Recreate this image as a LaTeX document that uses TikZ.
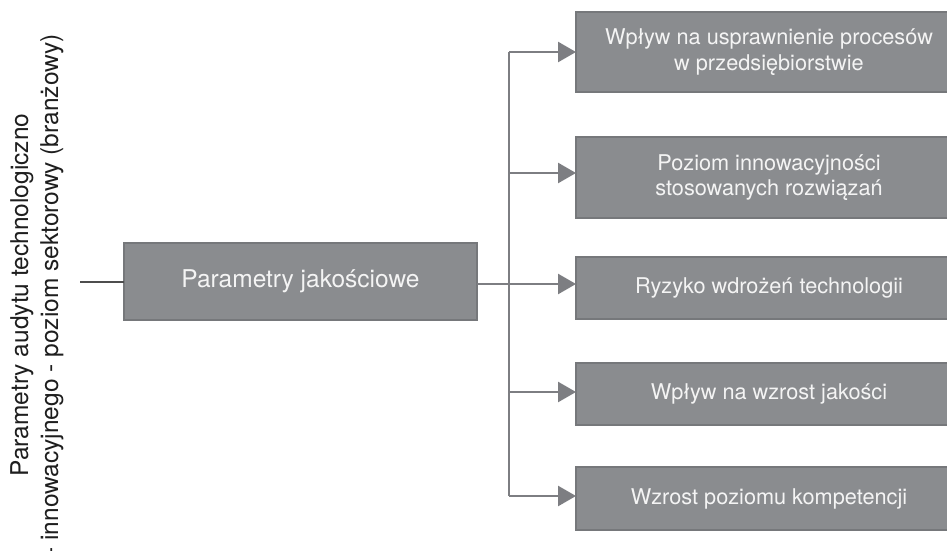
\documentclass[tikz,border=0pt]{standalone}
\usepackage{fontspec}
\setmainfont{TeX Gyre Heros}
\usetikzlibrary{arrows.meta}
\definecolor{boxfill}{HTML}{8A8C8F}
\definecolor{boxedge}{HTML}{76787B}
\definecolor{linecol}{HTML}{7D7E82}
\definecolor{boxtext}{HTML}{F4F4F4}
\definecolor{sidetext}{HTML}{1E1E1E}
\definecolor{leadcol}{HTML}{4D4D4D}
\tikzset{
  graybox/.style={draw=boxedge, fill=boxfill, line width=2pt, text=boxtext,
    inner sep=0pt, outer sep=0pt, align=center},
  mainbox/.style={graybox, minimum width=353pt, minimum height=77pt,
    font=\fontsize{24.5}{29}\selectfont},
  itembox/.style={graybox, minimum width=386pt,
    font=\fontsize{21.7}{25.8}\selectfont},
  sidelabel/.style={rotate=90, anchor=base, inner sep=0pt, text=sidetext,
    font=\fontsize{24.5}{29}\selectfont},
  conn/.style={draw=linecol, line width=2.5pt},
  arr/.style={conn, -{Triangle[length=18pt,width=20pt]}},
}
\begin{document}
\begin{tikzpicture}[x=1pt,y=-1pt]
\clip (0,0) rectangle (947,551);
\fill[white] (0,0) rectangle (947,551);

\node[sidelabel] (s1) at (28,295) {Parametry audytu technologiczno};
\node[sidelabel] (s2) at (58,295) {- innowacyjnego - poziom sektorowy (branżowy)};

\node[mainbox] (main) at (300.5,281.5) {Parametry jakościowe};

\node[itembox, minimum height=80pt] (b1) at (769,52) {Wpływ na usprawnienie procesów\\w przedsiębiorstwie};
\node[itembox, minimum height=81pt] (b2) at (769,177.5) {Poziom innowacyjności\\stosowanych rozwiązań};
\node[itembox, minimum height=62pt] (b3) at (769,288) {Ryzyko wdrożeń technologii};
\node[itembox, minimum height=62pt] (b4) at (769,394) {Wpływ na wzrost jakości};
\node[itembox, minimum height=63pt] (b5) at (769,498.5) {Wzrost poziomu kompetencji};

\coordinate (lead) at (80,282);
\draw[draw=leadcol, line width=2pt] (lead) -- (lead -| main.west);

\coordinate (t1) at (509,52);
\coordinate (t2) at (509,173);
\coordinate (t3) at (509,284);
\coordinate (t4) at (509,392);
\coordinate (t5) at (509,496);

\draw[conn] (main.east |- t3) -- (t3);
\draw[conn] (t1) -- (t5);
\draw[arr] (t1) -- (t1 -| b1.west);
\draw[arr] (t2) -- (t2 -| b2.west);
\draw[arr] (t3) -- (t3 -| b3.west);
\draw[arr] (t4) -- (t4 -| b4.west);
\draw[arr] (t5) -- (t5 -| b5.west);
\end{tikzpicture}
\end{document}
